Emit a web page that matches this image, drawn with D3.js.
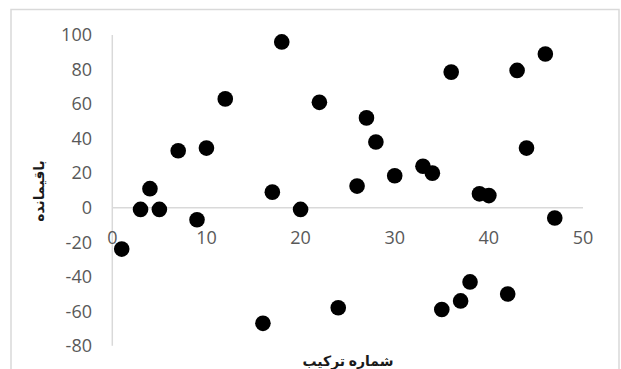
<!DOCTYPE html>
<html>
<head>
<meta charset="utf-8">
<script src="https://cdn.jsdelivr.net/npm/d3@7"></script>
<style>
html,body{margin:0;padding:0;background:#fff;}
svg{display:block;}
</style>
</head>
<body>
<svg id="chart" width="621" height="369"></svg>
<script>
const xValues = [1, 3, 4, 5, 7, 9, 10, 12, 16, 17, 18, 20, 22, 24, 26, 27, 28, 30, 33, 34, 35, 36, 37, 38, 39, 40, 42, 43, 44, 46, 47];
const yValues = [-24, -1, 11, -1, 33, -7, 34.5, 63, -67, 9, 96, -1, 61, -58, 12.5, 52, 38, 18.5, 24, 20, -59, 78.5, -54, -43, 8, 7, -50, 79.5, 34.5, 89, -6];
const xTicks = [0, 10, 20, 30, 40, 50];
const yTicks = [-80, -60, -40, -20, 0, 20, 40, 60, 80, 100];
const xTitle = "شماره ترکیب";
const yTitle = "باقیمانده";

const svg = d3.select("#chart");
const x = d3.scaleLinear().domain([0, 50]).range([112.3, 583]);
const y = d3.scaleLinear().domain([-80, 100]).range([345.8, 35]);

// outer border
svg.append("rect").attr("x", 11).attr("y", 9.5).attr("width", 608).attr("height", 400)
  .attr("fill", "#fff").attr("stroke", "#d9d9d9").attr("stroke-width", 1.5);

// axis lines
svg.append("line").attr("x1", x(0)).attr("x2", x(0)).attr("y1", y(100)).attr("y2", y(-80))
  .attr("stroke", "#d9d9d9").attr("stroke-width", 1.5);
svg.append("line").attr("x1", x(0)).attr("x2", x(50)).attr("y1", y(0)).attr("y2", y(0))
  .attr("stroke", "#d9d9d9").attr("stroke-width", 1.5);

const font = "'Open Sans', 'Liberation Sans', sans-serif";

// y tick labels
svg.append("g").selectAll("text").data(yTicks).join("text")
  .attr("x", 92).attr("y", d => y(d)).attr("dy", "0.35em")
  .attr("text-anchor", "end").attr("font-family", font).attr("font-size", 18)
  .attr("fill", "#595959").text(d => d);

// x tick labels
svg.append("g").selectAll("text").data(xTicks).join("text")
  .attr("x", d => x(d)).attr("y", 238).attr("dy", "0.35em")
  .attr("text-anchor", "middle").attr("font-family", font).attr("font-size", 18)
  .attr("fill", "#595959").text(d => d);

// points
svg.append("g").selectAll("circle").data(xValues.map((v, i) => [v, yValues[i]])).join("circle")
  .attr("cx", d => x(d[0])).attr("cy", d => y(d[1])).attr("r", 7.8).attr("fill", "#000");

// axis titles
svg.append("text").attr("x", 348).attr("y", 361).attr("dy", "0.35em")
  .attr("text-anchor", "middle").attr("font-family", "'Noto Sans', 'DejaVu Sans', sans-serif")
  .attr("font-weight", "bold").attr("font-size", 14).attr("fill", "#1a1a1a")
  .attr("direction", "rtl").text(xTitle);

svg.append("text").attr("transform", "translate(39,191) rotate(-90)").attr("dy", "0.35em")
  .attr("text-anchor", "middle").attr("font-family", "'Noto Sans', 'DejaVu Sans', sans-serif")
  .attr("font-weight", "bold").attr("font-size", 14).attr("fill", "#1a1a1a")
  .attr("direction", "rtl").text(yTitle);
</script>
</body>
</html>
